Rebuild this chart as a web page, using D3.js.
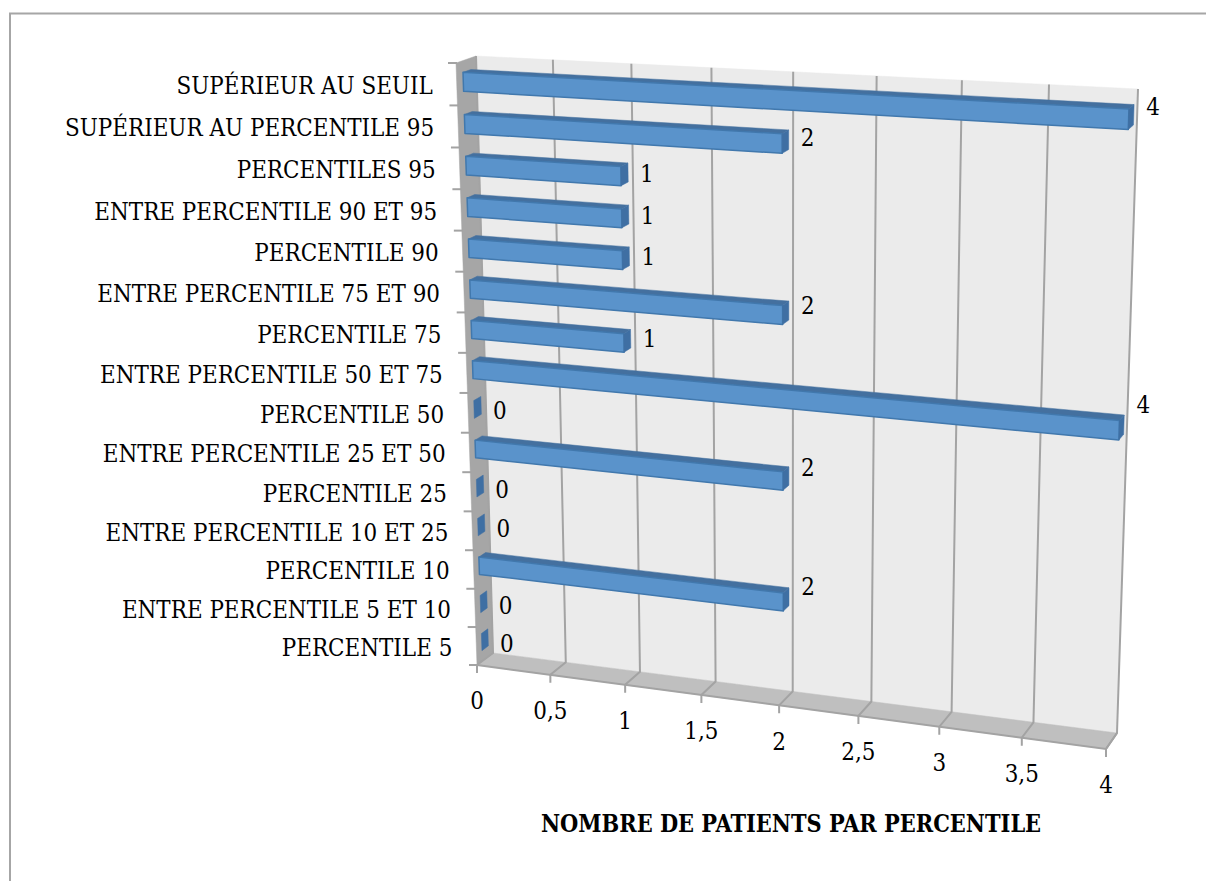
<!DOCTYPE html>
<html>
<head>
<meta charset="utf-8">
<script src="https://cdn.jsdelivr.net/npm/d3@7"></script>
<style>
  html, body { margin: 0; padding: 0; background: #fff; }
  text { font-family: "DejaVu Serif", serif; font-stretch: condensed; fill: #000; }
</style>
</head>
<body>
<div id="chart"></div>
<script>
var categories = [
  "SUPÉRIEUR AU SEUIL", "SUPÉRIEUR AU PERCENTILE 95", "PERCENTILES 95",
  "ENTRE PERCENTILE 90 ET 95", "PERCENTILE 90", "ENTRE PERCENTILE 75 ET 90",
  "PERCENTILE 75", "ENTRE PERCENTILE 50 ET 75", "PERCENTILE 50",
  "ENTRE PERCENTILE 25 ET 50", "PERCENTILE 25", "ENTRE PERCENTILE 10 ET 25",
  "PERCENTILE 10", "ENTRE PERCENTILE 5 ET 10", "PERCENTILE 5"
];
var patients = [4, 2, 1, 1, 1, 2, 1, 4, 0, 2, 0, 0, 2, 0, 0];
var valueTicks = [0, 0.5, 1, 1.5, 2, 2.5, 3, 3.5, 4];
var axisTitle = "NOMBRE DE PATIENTS PAR PERCENTILE";

var svgWidth = 1206;
var svgHeight = 881;
var fontSize = 23.9;

var svg = d3.select("#chart")
  .append("svg")
  .attr("width", svgWidth)
  .attr("height", svgHeight)
  .style("display", "block");

// the 3d box: corners of the front and back planes, tl tr br bl
var frontPlane = [[456, 63], [1125, 100], [1106, 749], [477, 665]];
var backPlane = [[476, 56], [1138, 89], [1117, 733], [493, 653]];

var xScale = d3.scaleLinear().domain([0, 4]).range([0, 1]);
var yScale = d3.scaleBand().domain(categories).range([0, 1])
  .paddingInner(0.55).paddingOuter(0.275);

// unit square to quad
function homography(q) {
  var dx1 = q[1][0] - q[2][0], dx2 = q[3][0] - q[2][0], sx = q[0][0] - q[1][0] + q[2][0] - q[3][0];
  var dy1 = q[1][1] - q[2][1], dy2 = q[3][1] - q[2][1], sy = q[0][1] - q[1][1] + q[2][1] - q[3][1];
  var den = dx1 * dy2 - dx2 * dy1;
  var g = (sx * dy2 - dx2 * sy) / den;
  var h = (dx1 * sy - sx * dy1) / den;
  var a = q[1][0] - q[0][0] + g * q[1][0], b = q[3][0] - q[0][0] + h * q[3][0], c = q[0][0];
  var d = q[1][1] - q[0][1] + g * q[1][1], e = q[3][1] - q[0][1] + h * q[3][1], f = q[0][1];
  return function(u, v) {
    var w = g * u + h * v + 1;
    return [(a * u + b * v + c) / w, (d * u + e * v + f) / w];
  };
}

var front = homography(frontPlane);
var back = homography(backPlane);

// u along values, v down the categories, depth 0 front to 1 back
function project(u, v, depth) {
  var p = front(u, v), q = back(u, v);
  return [p[0] + (q[0] - p[0]) * depth, p[1] + (q[1] - p[1]) * depth];
}

var poly = d3.line();

function face(points, fill, stroke) {
  svg.append("path")
    .attr("d", poly(points) + "Z")
    .attr("fill", fill)
    .attr("stroke", stroke || fill)
    .attr("stroke-width", stroke ? 1.5 : 0.5)
    .attr("stroke-linejoin", "round");
}

// outer frame, only top and left are in the picture
svg.append("path")
  .attr("d", "M10," + svgHeight + "V13.5H" + svgWidth)
  .attr("fill", "none")
  .attr("stroke", "#a6a6a6")
  .attr("stroke-width", 2);

// walls and floor
face([back(0, 0), back(1, 0), back(1, 1), back(0, 1)], "#ebebeb");
face([back(0, 1), back(1, 1), front(1, 1), front(0, 1)], "#bfbfbf");
face([front(0, 0), back(0, 0), back(0, 1), front(0, 1)], "#a6a6a6");

// gridlines up the back wall and across the floor, tick below
valueTicks.forEach(function(t) {
  var u = xScale(t);
  var tickEnd = front(u, 1);
  svg.append("path")
    .attr("d", poly([back(u, 0), back(u, 1), tickEnd, [tickEnd[0], tickEnd[1] + 8]]))
    .attr("fill", "none")
    .attr("stroke", "#a3a3a3")
    .attr("stroke-width", 2);

  svg.append("text")
    .attr("x", tickEnd[0])
    .attr("y", tickEnd[1] + 36)
    .attr("dy", "0.35em")
    .attr("text-anchor", "middle")
    .attr("font-size", fontSize)
    .text(String(t).replace(".", ","));
});

// front edge of the floor
svg.append("path")
  .attr("d", poly([front(0, 1), front(1, 1), back(1, 1)]))
  .attr("fill", "none")
  .attr("stroke", "#a3a3a3")
  .attr("stroke-width", 2);

// category ticks and labels
d3.range(categories.length + 1).forEach(function(i) {
  var p = front(0, i / categories.length);
  svg.append("line")
    .attr("x1", p[0] - 8).attr("x2", p[0] + 1)
    .attr("y1", p[1]).attr("y2", p[1])
    .attr("stroke", "#a3a3a3")
    .attr("stroke-width", 2);
});

var depthNear = 0.33;
var depthFar = 0.73;

categories.forEach(function(name, i) {
  var v0 = yScale(name);
  var v1 = v0 + yScale.bandwidth();
  var vMid = (v0 + v1) / 2;
  var val = patients[i];
  var u = xScale(val);

  var a = project(0, v0, depthNear), b = project(u, v0, depthNear);
  var c = project(u, v1, depthNear), d = project(0, v1, depthNear);
  var a2 = project(0, v0, depthFar), b2 = project(u, v0, depthFar), c2 = project(u, v1, depthFar);

  if (val > 0) {
    face([a, a2, b2, b], "#44709f");
    face([a, b, c, d], "#5a93cb", "#4178ad");
  }
  face([b, b2, c2, c], "#3f6fa3");

  // category label
  var mid = front(0, vMid);
  svg.append("text")
    .attr("x", mid[0] - 24)
    .attr("y", mid[1] + 1.5)
    .attr("dy", "0.35em")
    .attr("text-anchor", "end")
    .attr("font-size", fontSize)
    .text(name);

  // value label sits higher up the further along the bar it is
  var end = project(u, vMid, (depthNear + depthFar) / 2);
  var lift = 3.5 - val * (3.2 + 5.5 * vMid) - val * val * (0.03 + 0.3 * vMid);
  svg.append("text")
    .attr("x", b2[0] + 19)
    .attr("y", end[1] + lift)
    .attr("dy", "0.35em")
    .attr("text-anchor", "middle")
    .attr("font-size", fontSize)
    .text(val);
});

svg.append("text")
  .attr("x", 791)
  .attr("y", 824)
  .attr("dy", "0.35em")
  .attr("text-anchor", "middle")
  .attr("font-size", 23.3)
  .attr("font-weight", 700)
  .text(axisTitle);
</script>
</body>
</html>
